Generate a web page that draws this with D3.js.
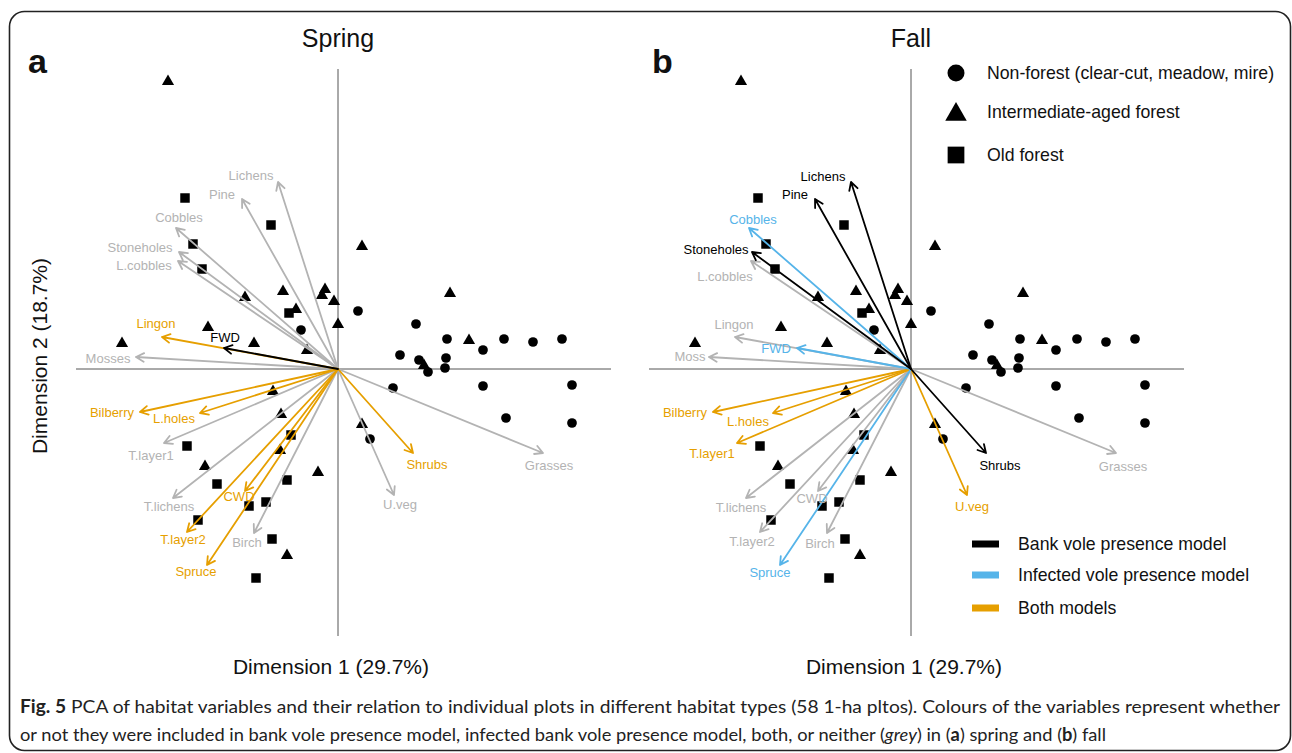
<!DOCTYPE html>
<html>
<head>
<meta charset="utf-8">
<script src="https://cdn.jsdelivr.net/npm/d3@7"></script>
<style>
  body { margin: 0; background: #fff; }
  svg { display: block; }
</style>
</head>
<body>
<svg id="fig" width="1292" height="753"></svg>
<script>
// ---- Plot scores on the first two PCA dimensions, by habitat type ----
const nonForest = [
  [-0.37, 0.39], [0.20, 0.58], [0.78, 0.45], [1.09, 0.30], [1.45, 0.19],
  [1.66, 0.30], [1.95, 0.27], [2.24, 0.30], [0.62, 0.14], [0.81, 0.09],
  [0.90, -0.03], [1.07, 0.01], [1.08, 0.11], [0.55, -0.19], [1.45, -0.17],
  [2.34, -0.16], [1.68, -0.49], [2.34, -0.54], [0.32, -0.70]
];
const intermediateForest = [
  [-1.70, 2.89], [-0.93, 0.73], [-0.55, 0.79], [-0.13, 0.81], [-0.16, 0.75],
  [-0.04, 0.69], [-0.42, 0.61], [0.00, 0.46], [-1.30, 0.43], [-0.84, 0.27],
  [-0.31, 0.20], [-2.16, 0.27], [0.24, 1.24], [1.12, 0.77], [1.31, 0.30],
  [0.86, 0.05], [-0.65, -0.21], [-0.57, -0.44], [-0.58, -0.80], [-1.33, -0.96],
  [-0.20, -1.02], [-0.51, -1.85], [0.24, -0.54]
];
const oldForest = [
  [-1.53, 1.71], [-0.67, 1.44], [-1.45, 1.25], [-1.36, 1.00], [-0.49, 0.56],
  [-1.51, -0.77], [-0.47, -0.66], [-1.21, -1.15], [-0.51, -1.11], [-0.89, -1.37],
  [-0.72, -1.33], [-1.40, -1.51], [-0.66, -1.70], [-0.82, -2.09]
];

// ---- Habitat variable loadings ----
const springNames = ["Lichens", "Pine", "Cobbles", "Stoneholes", "L.cobbles", "Lingon", "FWD",
  "Mosses", "Bilberry", "L.holes", "T.layer1", "T.lichens", "CWD", "T.layer2", "Birch",
  "Spruce", "Shrubs", "Grasses", "U.veg"];
const fallNames = ["Lichens", "Pine", "Cobbles", "Stoneholes", "L.cobbles", "Lingon", "FWD",
  "Moss", "Bilberry", "L.holes", "T.layer1", "T.lichens", "CWD", "T.layer2", "Birch",
  "Spruce", "Shrubs", "Grasses", "U.veg"];
const loadingDim1 = [-0.60, -0.96, -1.62, -1.59, -1.60, -1.76, -1.14, -2.02, -1.98, -1.38,
  -1.74, -1.65, -0.93, -1.51, -0.84, -1.31, 0.75, 2.05, 0.56];
const loadingDim2 = [1.87, 1.70, 1.41, 1.17, 1.08, 0.32, 0.21, 0.12, -0.43, -0.44,
  -0.74, -1.29, -1.22, -1.63, -1.64, -1.96, -0.84, -0.84, -1.26];

// Which presence model each variable entered: none, bank, infected, both
const springModel = ["none", "none", "none", "none", "none", "both", "bank", "none", "both",
  "both", "none", "none", "both", "both", "none", "both", "both", "none", "none"];
const fallModel = ["bank", "bank", "infected", "bank", "none", "none", "infected", "none",
  "both", "both", "both", "none", "none", "none", "none", "infected", "bank", "none", "both"];

const habitatLegend = ["Non-forest (clear-cut, meadow, mire)", "Intermediate-aged forest", "Old forest"];
const modelLegend = ["Bank vole presence model", "Infected vole presence model", "Both models"];

// ---- Layout (label nudges in px from the arrow tip) ----
const springNudge = [[-27, -7], [-20, -5], [3, -11], [-39, -5], [-34, 4], [-6, -14], [1, -11],
  [-28, 1], [-28, 0], [-26, 5], [-13, 12], [-4, 8], [-6, 5], [-4, 7], [-7, 9], [-11, 6],
  [14, 11], [6, 12], [6, 9]];
const fallNudge = [[-28, -6], [-20, -5], [4, -9], [-36, -3], [-26, 15], [-1, -13], [-21, 0],
  [-19, -1], [-28, 0], [-25, 8], [-25, 10], [-5, 9], [-6, 7], [-8, 9], [-7, 10], [-10, 7],
  [14, 12], [7, 13], [5, 11]];

const modelColor = { none: "#b3b3b3", bank: "#000000", infected: "#56B4E9", both: "#E69F00" };
const drawOrder = { none: 0, both: 1, infected: 2, bank: 3 };
const labelFont = "'Liberation Sans', Arial, sans-serif";

const svg = d3.select("#fig");

// Outer rounded frame
svg.append("rect")
  .attr("x", 9.5).attr("y", 11.5).attr("width", 1281).attr("height", 739)
  .attr("rx", 15).attr("fill", "none").attr("stroke", "#222").attr("stroke-width", 1.6);

const xDomain = [-2.62, 2.73];
const y = d3.scaleLinear().domain([-2.67, 3.00]).range([636, 69]);

function panel(xRange, title, letter, letterX, names, model, nudge) {
  const x = d3.scaleLinear().domain(xDomain).range(xRange);
  const g = svg.append("g");

  // Axes through the origin
  g.append("line")
    .attr("x1", x(xDomain[0])).attr("x2", x(xDomain[1]))
    .attr("y1", y(0)).attr("y2", y(0))
    .attr("stroke", "#555").attr("stroke-width", 1);
  g.append("line")
    .attr("x1", x(0)).attr("x2", x(0))
    .attr("y1", y(y.domain()[0])).attr("y2", y(y.domain()[1]))
    .attr("stroke", "#555").attr("stroke-width", 1);

  // Plot scores
  const pts = g.append("g");
  pts.selectAll(".nf").data(nonForest).join("path")
    .attr("d", d3.symbol(d3.symbolCircle, 74)())
    .attr("transform", d => `translate(${x(d[0])},${y(d[1])})`);
  pts.selectAll(".im").data(intermediateForest).join("path")
    .attr("d", d3.symbol(d3.symbolTriangle, 64)())
    .attr("transform", d => `translate(${x(d[0])},${y(d[1]) + 1.5})`);
  pts.selectAll(".of").data(oldForest).join("path")
    .attr("d", d3.symbol(d3.symbolSquare, 90)())
    .attr("transform", d => `translate(${x(d[0])},${y(d[1])})`);
  pts.selectAll("path").attr("fill", "#000");

  // Variable arrows
  const vars = names.map((n, i) => ({
    name: n, d1: loadingDim1[i], d2: loadingDim2[i], model: model[i], nudge: nudge[i]
  })).sort((a, b) => drawOrder[a.model] - drawOrder[b.model]);

  const ox = x(0), oy = y(0);
  const head = 9, spread = 0.5;
  const arrows = g.append("g").attr("fill", "none").attr("stroke-width", 1.8)
    .attr("stroke-linecap", "round").attr("stroke-linejoin", "round");
  vars.forEach(v => {
    const tx = x(v.d1), ty = y(v.d2);
    const a = Math.atan2(ty - oy, tx - ox);
    const h1x = tx - head * Math.cos(a - spread), h1y = ty - head * Math.sin(a - spread);
    const h2x = tx - head * Math.cos(a + spread), h2y = ty - head * Math.sin(a + spread);
    arrows.append("path")
      .attr("d", `M${ox},${oy}L${tx},${ty}M${h1x},${h1y}L${tx},${ty}L${h2x},${h2y}`)
      .attr("stroke", modelColor[v.model]);
  });

  g.append("g").selectAll("text").data(vars).join("text")
    .attr("x", v => x(v.d1) + v.nudge[0])
    .attr("y", v => y(v.d2) + v.nudge[1])
    .attr("dy", "0.35em")
    .attr("text-anchor", "middle")
    .attr("font-family", labelFont)
    .attr("font-size", 13)
    .attr("fill", v => modelColor[v.model])
    .text(v => v.name);

  // Titles
  g.append("text").attr("x", x(0)).attr("y", 47).attr("text-anchor", "middle")
    .attr("font-family", labelFont).attr("font-size", 25).attr("fill", "#111").text(title);
  g.append("text").attr("x", letterX).attr("y", 73)
    .attr("font-family", labelFont).attr("font-size", 34).attr("font-weight", "bold")
    .attr("fill", "#111").text(letter);
  g.append("text").attr("x", x(0) - 7).attr("y", 674).attr("text-anchor", "middle")
    .attr("font-family", labelFont).attr("font-size", 21).attr("fill", "#111")
    .text("Dimension 1 (29.7%)");
  return x;
}

panel([76, 611], "Spring", "a", 28, springNames, springModel, springNudge);
panel([649, 1184], "Fall", "b", 652, fallNames, fallModel, fallNudge);

// Y axis title (left of panel a)
svg.append("text")
  .attr("transform", "translate(47,356) rotate(-90)")
  .attr("text-anchor", "middle")
  .attr("font-family", labelFont).attr("font-size", 21).attr("fill", "#111")
  .text("Dimension 2 (18.7%)");

// Habitat legend
const hl = svg.append("g");
const hSymbols = [d3.symbol(d3.symbolCircle, 227)(), d3.symbol(d3.symbolTriangle, 200)(), d3.symbol(d3.symbolSquare, 280)()];
const hYs = [73, 112, 155];
habitatLegend.forEach((t, i) => {
  hl.append("path").attr("d", hSymbols[i]).attr("fill", "#000")
    .attr("transform", `translate(956,${hYs[i] + (i === 1 ? 2.5 : 0)})`);
  hl.append("text").attr("x", 987).attr("y", hYs[i]).attr("dy", "0.35em")
    .attr("font-family", labelFont).attr("font-size", 17.7).attr("fill", "#111").text(t);
});

// Model colour legend
const ml = svg.append("g");
const mColors = [modelColor.bank, modelColor.infected, modelColor.both];
const mYs = [544, 575, 608];
modelLegend.forEach((t, i) => {
  ml.append("rect").attr("x", 972).attr("y", mYs[i] - 3.5).attr("width", 27).attr("height", 7)
    .attr("fill", mColors[i]);
  ml.append("text").attr("x", 1018).attr("y", mYs[i]).attr("dy", "0.35em")
    .attr("font-family", labelFont).attr("font-size", 17.7).attr("fill", "#111").text(t);
});

// Figure caption
const capFont = "Lato, 'Open Sans', sans-serif";
const cap1 = svg.append("text").attr("x", 20).attr("y", 713)
  .attr("font-family", capFont).attr("font-size", 18).attr("fill", "#222")
  .attr("textLength", 1260).attr("lengthAdjust", "spacingAndGlyphs");
cap1.append("tspan").attr("font-weight", "bold").text("Fig. 5");
cap1.append("tspan").text(" PCA of habitat variables and their relation to individual plots in different habitat types (58 1-ha pltos). Colours of the variables represent whether");

const cap2 = svg.append("text").attr("x", 20).attr("y", 741)
  .attr("font-family", capFont).attr("font-size", 18).attr("fill", "#222")
  .attr("textLength", 1086).attr("lengthAdjust", "spacingAndGlyphs");
cap2.append("tspan").text("or not they were included in bank vole presence model, infected bank vole presence model, both, or neither (");
cap2.append("tspan").attr("font-style", "italic").text("grey");
cap2.append("tspan").text(") in (");
cap2.append("tspan").attr("font-weight", "bold").text("a");
cap2.append("tspan").text(") spring and (");
cap2.append("tspan").attr("font-weight", "bold").text("b");
cap2.append("tspan").text(") fall");
</script>
</body>
</html>
